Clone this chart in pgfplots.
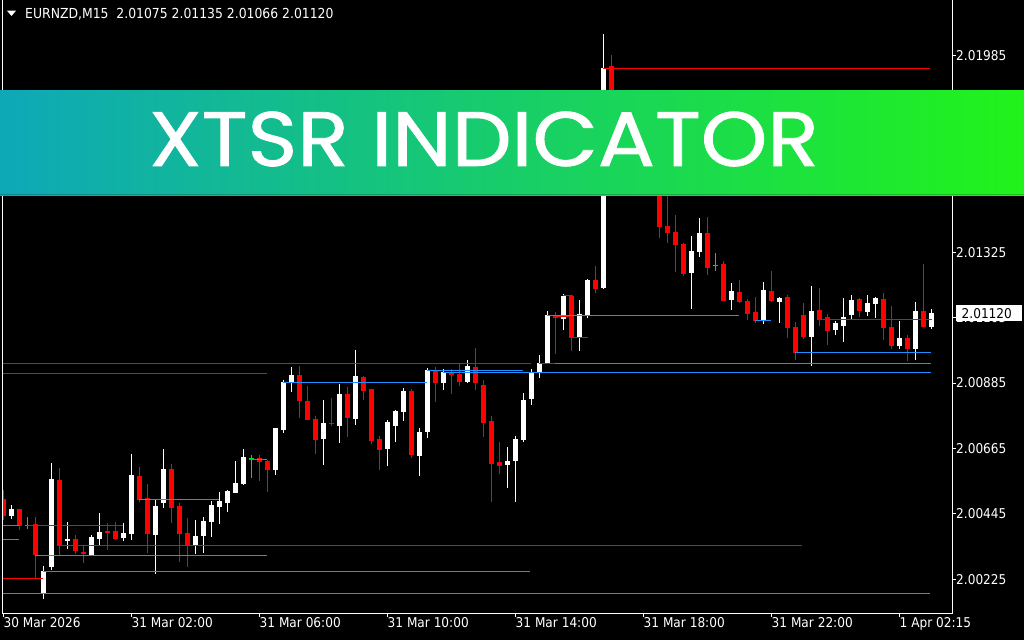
\documentclass[border=0pt]{standalone}
\usepackage{fontspec}
\usepackage{pgfplots}
\usepackage{pgfplotstable}
\usetikzlibrary{calc,backgrounds}
\pgfplotsset{compat=1.18}
\setmainfont{DejaVu Sans Condensed}
\newfontfamily\bannerfont[FakeBold=1]{Poppins}
\definecolor{mtred}{RGB}{255,0,0}
\definecolor{mtblue}{RGB}{30,144,255}
\definecolor{mtgreen}{RGB}{0,230,0}
\definecolor{bannerL}{RGB}{14,168,184}
\definecolor{bannerR}{RGB}{33,243,26}

% prices in units of 0.00001 above 2.00000 (e.g. 1120 = 2.01120)
\pgfplotstableread{
x o h l c
1 438 475 429 461
5 178 270 160 253
6 266 616 256 562
8 355 418 328 360
11 306 373 306 367
12 361 448 341 384
15 364 414 355 381
16 378 646 357 576
19 375 492 244 472
20 482 663 466 596
24 340 424 311 371
25 372 435 315 421
26 418 488 368 475
27 468 519 412 488
28 483 525 452 522
29 516 623 516 549
30 545 663 542 636
34 594 734 577 734
35 728 895 718 888
36 886 939 856 912
40 698 828 610 751
42 742 882 684 848
44 764 996 744 909
48 664 761 606 754
49 741 794 687 791
50 788 868 757 858
52 640 734 572 720
53 720 936 700 929
55 885 932 862 922
58 888 963 885 942
63 609 670 532 623
64 623 707 485 697
65 693 851 687 828
66 832 932 812 919
67 922 979 902 952
68 952 1127 951 1114
70 1101 1184 1063 1178
72 1040 1164 993 1117
73 1114 1235 1104 1231
75 1205 2059 1201 1943
78 1650 1700 1600 1680
80 1610 1660 1560 1640
86 1256 1379 1135 1329
87 1327 1440 1310 1389
91 1165 1221 1132 1194
95 1095 1225 1085 1198
97 1158 1174 1087 1171
101 1040 1211 942 1127
104 1063 1094 1047 1087
105 1077 1171 1023 1107
106 1114 1181 1100 1164
108 1124 1181 1110 1154
109 1151 1174 1104 1171
112 1010 1094 1000 1036
114 1000 1158 963 1127
116 1075 1135 1066 1120
}\bull

\pgfplotstableread{
x o h l c
0 494 525 424 438
2 461 463 391 405
4 411 435 228 306
7 559 599 306 337
9 361 374 310 320
10 318 337 281 311
13 388 414 325 381
14 387 418 357 361
17 572 603 485 493
18 498 547 315 378
21 596 613 414 466
22 472 482 284 378
23 381 431 267 340
32 633 643 557 620
33 623 626 520 594
37 912 942 768 825
38 825 875 762 762
39 764 774 647 694
41 752 835 742 747
43 848 872 705 768
45 905 909 828 858
46 865 865 680 691
47 697 707 593 660
51 858 865 633 643
54 926 939 821 885
56 919 932 848 912
57 915 952 875 888
59 939 1003 862 885
60 878 895 704 751
61 758 774 485 613
62 620 687 579 606
69 1110 1124 983 1104
71 1178 1178 993 1037
74 1231 1279 1188 1201
76 1951 1988 1669 1702
77 1702 1740 1620 1650
79 1680 1710 1590 1610
81 1640 1660 1540 1560
82 1560 1580 1374 1411
83 1413 1517 1357 1390
84 1393 1450 1259 1350
85 1352 1356 1246 1253
88 1389 1443 1249 1273
90 1285 1295 1162 1162
92 1191 1231 1155 1158
93 1161 1168 1098 1118
94 1124 1174 1088 1095
96 1194 1262 1158 1161
98 1174 1181 1036 1070
99 1073 1090 963 986
100 1114 1154 1033 1040
102 1131 1205 1077 1097
103 1107 1117 1013 1060
107 1168 1171 1107 1127
110 1168 1188 1030 1070
111 1073 1144 1000 1010
113 1036 1047 959 1000
115 1127 1285 1073 1073
}\bear

\pgfplotstableread{
x o h l c
3 407 435 395 407
31 630 643 566 630
89 1281 1322 1262 1281
}\doji

\newcommand{\candles}[2]{%
  \addplot[draw=none, mark=none, forget plot,
    error bars/.cd, y dir=both, y explicit, error mark=none,
    error bar style={#2, line width=1pt}]
    table[x=x, y expr={(\thisrow{h}+\thisrow{l})/2},
          y error expr={(\thisrow{h}-\thisrow{l})/2}] {#1};
  \addplot[draw=none, mark=none, forget plot,
    error bars/.cd, y dir=both, y explicit, error mark=none,
    error bar style={#2, line width=5pt}]
    table[x=x, y expr={(\thisrow{o}+\thisrow{c})/2},
          y error expr={max(abs(\thisrow{c}-\thisrow{o})/2,1.7)}] {#1};
}

\begin{document}
\begin{tikzpicture}[x=1pt,y=1pt, show background rectangle,
  inner frame sep=0pt, background rectangle/.style={fill=black, draw=none}]
\begin{axis}[scale only axis,
  width=949.7pt, height=612pt,
  xmin=-0.15, xmax=118.56, ymin=111.8, ymax=2169.6,
  axis line style={draw=none},
  xtick={0,16,32,48,64,80,96,112},
  xticklabels={30 Mar 2026,31 Mar 02:00,31 Mar 06:00,31 Mar 10:00,31 Mar 14:00,31 Mar 18:00,31 Mar 22:00,1 Apr 02:15},
  ytick={225,445,665,885,1105,1325,1545,1765,1985},
  yticklabels={2.00225,2.00445,2.00665,2.00885,2.01105,2.01325,2.01545,2.01765,2.01985},
  xtick pos=left, ytick pos=right,
  xticklabel pos=left, yticklabel pos=right,
  tick align=outside, major tick length=4pt,
  tick style={white, line width=1pt},
  tick label style={white, font=\fontsize{13.5}{14}\selectfont},
  yticklabel style={anchor=west, inner sep=0pt},
  xticklabel style={anchor=north west, inner sep=0pt},
]
\candles{\bull}{white}
\candles{\bear}{mtred}
\candles{\doji}{mtgreen}

% resistance levels
\addplot[mtred, line width=1pt] coordinates {(-0.15,228)(4.9,228)};
\addplot[mtred, line width=1pt] coordinates {(-0.15,407)(0.8,407)};
\addplot[mtred, line width=1pt] coordinates {(2.9,407)(14.9,407)};
\addplot[mtred, line width=1pt] coordinates {(6.9,339)(99.8,339)};
\addplot[mtred, line width=1pt] coordinates {(-0.15,918)(32.9,918)};
\addplot[mtred, line width=1pt] coordinates {(-0.15,951)(65.9,951)};
\addplot[mtred, line width=1pt] coordinates {(66.9,951)(68.9,951)};
\addplot[mtred, line width=1pt] coordinates {(74.9,1943)(115.8,1943)};
\addplot[mtred, line width=1pt] coordinates {(101.9,1099)(116,1099)};
\addplot[mtred, line width=1pt] coordinates {(68.7,1108)(70.8,1108)};
\addplot[mtred, line width=1pt] coordinates {(69.9,1178)(71.2,1178)};
\addplot[mtred, line width=1pt] coordinates {(71.2,1039)(73,1039)};
% support levels
\addplot[mtblue, line width=1pt] coordinates {(-0.15,407)(1.9,407)};
\addplot[mtblue, line width=1pt] coordinates {(-0.15,360)(1.9,360)};
\addplot[mtblue, line width=1pt] coordinates {(3.9,306)(32.9,306)};
\addplot[mtblue, line width=1pt] coordinates {(4.9,252)(65.8,252)};
\addplot[mtblue, line width=1pt] coordinates {(-0.15,178)(115.8,178)};
\addplot[mtblue, line width=1pt] coordinates {(16.9,494)(26.9,494)};
\addplot[mtblue, line width=1pt] coordinates {(30.7,629)(32.9,629)};
\addplot[mtblue, line width=1pt] coordinates {(34.9,888)(52.9,888)};
\addplot[mtblue, line width=1pt] coordinates {(52.9,928)(64.9,928)};
\addplot[mtblue, line width=1pt] coordinates {(54.9,921)(115.9,921)};
\addplot[mtblue, line width=1pt] coordinates {(68.9,951)(115.9,951)};
\addplot[mtblue, line width=1pt] coordinates {(67.9,1113)(91.9,1113)};
\addplot[mtblue, line width=1pt] coordinates {(93.9,1096)(95.9,1096)};
\addplot[mtblue, line width=1pt] coordinates {(98.9,988)(115.9,988)};
\coordinate (LL) at (rel axis cs:0,0);
\end{axis}
\pgfresetboundingbox
\begin{scope}[shift={($(LL)+(-2.3,-27)$)}]
\path[use as bounding box] (0,0) rectangle (1024,640);
% chart frame
\draw[white, line width=1pt] (2.3,640) -- (2.3,27) -- (952,27) -- (952,640);
% current price box
\fill[white] (956,319) rectangle (1022,335);
\node[black, anchor=west, inner sep=0pt, font=\fontsize{13.5}{14}\selectfont] at (961.5,326.8) {2.01120};
% title
\fill[white] (7,629.3) -- (16,629.3) -- (11.5,624) -- cycle;
\node[white, anchor=west, inner sep=0pt, font=\fontsize{13.8}{14}\selectfont] at (25,625.8) {EURNZD,M15\ \ 2.01075 2.01135 2.01066 2.01120};
% banner
\shade[left color=bannerL, right color=bannerR] (0,444.5) rectangle (1024,549);
\fill[black, opacity=0.2] (0,444.5) rectangle (1024,446);
\node[white, inner sep=0pt, xscale=1.1, font=\bannerfont\fontsize{77}{77}\selectfont] at (484,501) {XTSR INDICATOR};
\end{scope}
\end{tikzpicture}
\end{document}
